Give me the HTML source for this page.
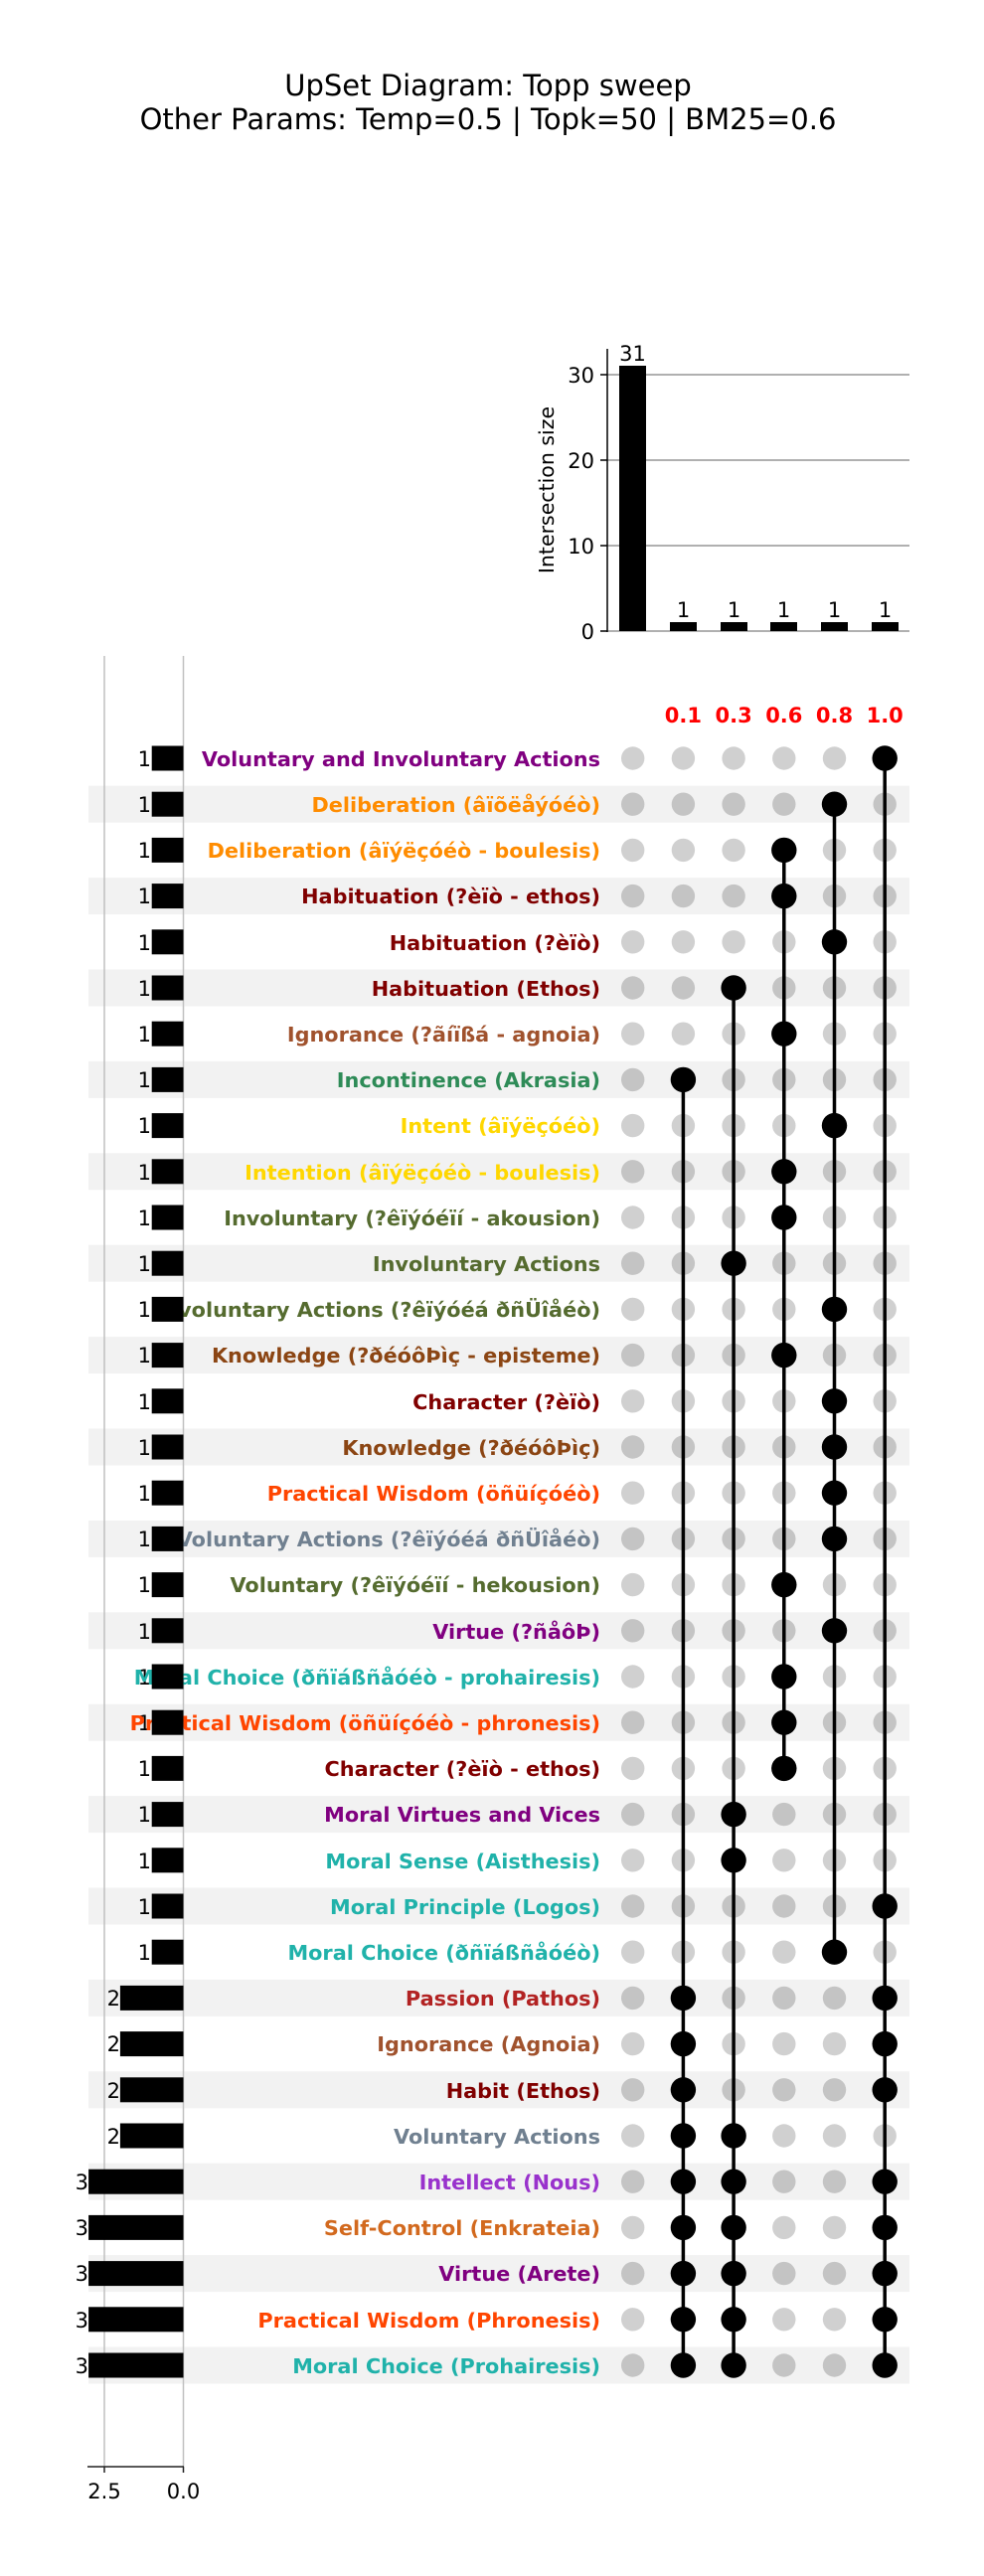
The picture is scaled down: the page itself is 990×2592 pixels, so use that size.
<!DOCTYPE html>
<html><head><meta charset="utf-8"><style>
html,body{margin:0;padding:0;background:#fff;}
svg{display:block;font-family:"DejaVu Sans","Liberation Sans",sans-serif;}
.lb{font-weight:bold;font-size:20.8px;text-anchor:end;}
.tk{font-size:21px;}
</style></head><body>
<svg width="990" height="2592" viewBox="0 0 990 2592" xmlns="http://www.w3.org/2000/svg">
<text x="491" y="96" font-size="29" text-anchor="middle">UpSet Diagram: Topp sweep</text>
<text x="491" y="130" font-size="29" text-anchor="middle">Other Params: Temp=0.5 | Topk=50 | BM25=0.6</text>
<g stroke="#b0b0b0" stroke-width="2">
<line x1="611" y1="377" x2="915" y2="377"/><line x1="611" y1="463" x2="915" y2="463"/><line x1="611" y1="549" x2="915" y2="549"/><line x1="611" y1="635" x2="915" y2="635"/>
</g>
<line x1="611" y1="351" x2="611" y2="636" stroke="#000" stroke-width="1.5"/>
<g stroke="#000" stroke-width="1.5"><line x1="604" y1="377" x2="611" y2="377"/><line x1="604" y1="463" x2="611" y2="463"/><line x1="604" y1="549" x2="611" y2="549"/><line x1="604" y1="635" x2="611" y2="635"/></g>
<g class="tk" text-anchor="end"><text x="598" y="385">30</text><text x="598" y="471">20</text><text x="598" y="557">10</text><text x="598" y="643">0</text></g>
<text transform="translate(557,493) rotate(-90)" font-size="20.5" text-anchor="middle">Intersection size</text>
<g fill="#000">
<rect x="623" y="368" width="27" height="267"/>
<rect x="674" y="626" width="27" height="9"/><rect x="725" y="626" width="27" height="9"/><rect x="775" y="626" width="27" height="9"/><rect x="826" y="626" width="27" height="9"/><rect x="877" y="626" width="27" height="9"/>
</g>
<g class="tk" text-anchor="middle"><text x="636.5" y="363">31</text><text x="687.5" y="621">1</text><text x="738.5" y="621">1</text><text x="788.5" y="621">1</text><text x="839.5" y="621">1</text><text x="890.5" y="621">1</text></g>
<g font-weight="bold" font-size="21" fill="#ff0000" text-anchor="middle"><text x="687.4" y="727">0.1</text><text x="738.1" y="727">0.3</text><text x="788.8" y="727">0.6</text><text x="839.5" y="727">0.8</text><text x="890.2" y="727">1.0</text></g>
<g id="shade"></g>
<g stroke="#c0c0c0" stroke-width="1.5"><line x1="105" y1="660" x2="105" y2="2482"/><line x1="184.5" y1="660" x2="184.5" y2="2482"/></g>
<g id="dots"></g>
<g class="tk" text-anchor="end">
<text x="152" y="771">1</text><text x="152" y="817">1</text><text x="152" y="863">1</text><text x="152" y="909">1</text><text x="152" y="956">1</text><text x="152" y="1002">1</text><text x="152" y="1048">1</text><text x="152" y="1094">1</text><text x="152" y="1140">1</text><text x="152" y="1187">1</text><text x="152" y="1233">1</text><text x="152" y="1279">1</text><text x="152" y="1325">1</text><text x="152" y="1371">1</text><text x="152" y="1418">1</text><text x="152" y="1464">1</text><text x="152" y="1510">1</text><text x="152" y="1556">1</text><text x="152" y="1602">1</text><text x="152" y="1649">1</text><text x="152" y="1695">1</text><text x="152" y="1741">1</text><text x="152" y="1787">1</text><text x="152" y="1833">1</text><text x="152" y="1880">1</text><text x="152" y="1926">1</text><text x="152" y="1972">1</text>
<text x="121" y="2018">2</text><text x="121" y="2064">2</text><text x="121" y="2111">2</text><text x="121" y="2157">2</text>
<text x="89" y="2203">3</text><text x="89" y="2249">3</text><text x="89" y="2295">3</text><text x="89" y="2342">3</text><text x="89" y="2388">3</text>
</g>
<g>
<text class="lb" x="604" y="771" fill="#800080">Voluntary and Involuntary Actions</text>
<text class="lb" x="604" y="817" fill="#FF8C00">Deliberation (âïõëåýóéò)</text>
<text class="lb" x="604" y="863" fill="#FF8C00">Deliberation (âïýëçóéò - boulesis)</text>
<text class="lb" x="604" y="909" fill="#800000">Habituation (?èïò - ethos)</text>
<text class="lb" x="604" y="956" fill="#800000">Habituation (?èïò)</text>
<text class="lb" x="604" y="1002" fill="#800000">Habituation (Ethos)</text>
<text class="lb" x="604" y="1048" fill="#A0522D">Ignorance (?ãíïßá - agnoia)</text>
<text class="lb" x="604" y="1094" fill="#2E8B57">Incontinence (Akrasia)</text>
<text class="lb" x="604" y="1140" fill="#FFD700">Intent (âïýëçóéò)</text>
<text class="lb" x="604" y="1187" fill="#FFD700">Intention (âïýëçóéò - boulesis)</text>
<text class="lb" x="604" y="1233" fill="#556B2F">Involuntary (?êïýóéïí - akousion)</text>
<text class="lb" x="604" y="1279" fill="#556B2F">Involuntary Actions</text>
<text class="lb" x="604" y="1325" fill="#556B2F">Involuntary Actions (?êïýóéá ðñÜîåéò)</text>
<text class="lb" x="604" y="1371" fill="#8B4513">Knowledge (?ðéóôÞìç - episteme)</text>
<text class="lb" x="604" y="1418" fill="#800000">Character (?èïò)</text>
<text class="lb" x="604" y="1464" fill="#8B4513">Knowledge (?ðéóôÞìç)</text>
<text class="lb" x="604" y="1510" fill="#FF4500">Practical Wisdom (öñüíçóéò)</text>
<text class="lb" x="604" y="1556" fill="#708090">Voluntary Actions (?êïýóéá ðñÜîåéò)</text>
<text class="lb" x="604" y="1602" fill="#556B2F">Voluntary (?êïýóéïí - hekousion)</text>
<text class="lb" x="604" y="1649" fill="#800080">Virtue (?ñåôÞ)</text>
<text class="lb" x="604" y="1695" fill="#20B2AA">Moral Choice (ðñïáßñåóéò - prohairesis)</text>
<text class="lb" x="604" y="1741" fill="#FF4500">Practical Wisdom (öñüíçóéò - phronesis)</text>
<text class="lb" x="604" y="1787" fill="#800000">Character (?èïò - ethos)</text>
<text class="lb" x="604" y="1833" fill="#800080">Moral Virtues and Vices</text>
<text class="lb" x="604" y="1880" fill="#20B2AA">Moral Sense (Aisthesis)</text>
<text class="lb" x="604" y="1926" fill="#20B2AA">Moral Principle (Logos)</text>
<text class="lb" x="604" y="1972" fill="#20B2AA">Moral Choice (ðñïáßñåóéò)</text>
<text class="lb" x="604" y="2018" fill="#B22222">Passion (Pathos)</text>
<text class="lb" x="604" y="2064" fill="#A0522D">Ignorance (Agnoia)</text>
<text class="lb" x="604" y="2111" fill="#800000">Habit (Ethos)</text>
<text class="lb" x="604" y="2157" fill="#708090">Voluntary Actions</text>
<text class="lb" x="604" y="2203" fill="#9932CC">Intellect (Nous)</text>
<text class="lb" x="604" y="2249" fill="#D2691E">Self-Control (Enkrateia)</text>
<text class="lb" x="604" y="2295" fill="#800080">Virtue (Arete)</text>
<text class="lb" x="604" y="2342" fill="#FF4500">Practical Wisdom (Phronesis)</text>
<text class="lb" x="604" y="2388" fill="#20B2AA">Moral Choice (Prohairesis)</text>
</g>
<g id="bars"></g>
<line x1="88" y1="2482" x2="185" y2="2482" stroke="#222" stroke-width="1.5"/>
<g stroke="#222" stroke-width="1.5"><line x1="105" y1="2482" x2="105" y2="2488"/><line x1="184.5" y1="2482" x2="184.5" y2="2488"/></g>
<g class="tk" text-anchor="middle"><text x="105" y="2514">2.5</text><text x="184.5" y="2514">0.0</text></g>
<script>
(function(){
var NS="http://www.w3.org/2000/svg";
function el(p,t,a){var e=document.createElementNS(NS,t);for(var k in a)e.setAttribute(k,a[k]);p.appendChild(e);return e;}
var filled=[[5],[4],[3],[3],[4],[2],[3],[1],[4],[3],[3],[2],[4],[3],[4],[4],[4],[4],[3],[4],[3],[3],[3],[2],[2],[5],[4],[1,5],[1,5],[1,5],[1,2],[1,2,5],[1,2,5],[1,2,5],[1,2,5],[1,2,5]];
var vals=[];for(var i=0;i<36;i++)vals.push(i<27?1:(i<31?2:3));
var sh=document.getElementById('shade'),dt=document.getElementById('dots'),br=document.getElementById('bars');
function Y(i){return 763+i*46.2;}
function X(c){return 636.7+c*50.7;}
for(var i=0;i<36;i++){if(i%2==1)el(sh,'rect',{x:89,y:Y(i)-18.5,width:826,height:37,fill:'#f2f2f2'});}
for(var i=0;i<36;i++){for(var c=0;c<6;c++){el(dt,'circle',{cx:X(c),cy:Y(i),r:11.7,fill:(i%2==1?'#c4c4c4':'#d0d0d0')});}}
for(var c=1;c<6;c++){var mn=99,mx=-1;for(var i=0;i<36;i++){if(filled[i].indexOf(c)>=0){mn=Math.min(mn,i);mx=Math.max(mx,i);}}
if(mx>mn)el(dt,'line',{x1:X(c),y1:Y(mn),x2:X(c),y2:Y(mx),stroke:'#000','stroke-width':3.5});}
for(var i=0;i<36;i++){filled[i].forEach(function(c){el(dt,'circle',{cx:X(c),cy:Y(i),r:12.7,fill:'#000'});});}
for(var i=0;i<36;i++){var w=vals[i]*31.8;el(br,'rect',{x:184.5-w,y:Y(i)-12.5,width:w,height:25,fill:'#000'});}
})();
</script>
</svg>
</body></html>
